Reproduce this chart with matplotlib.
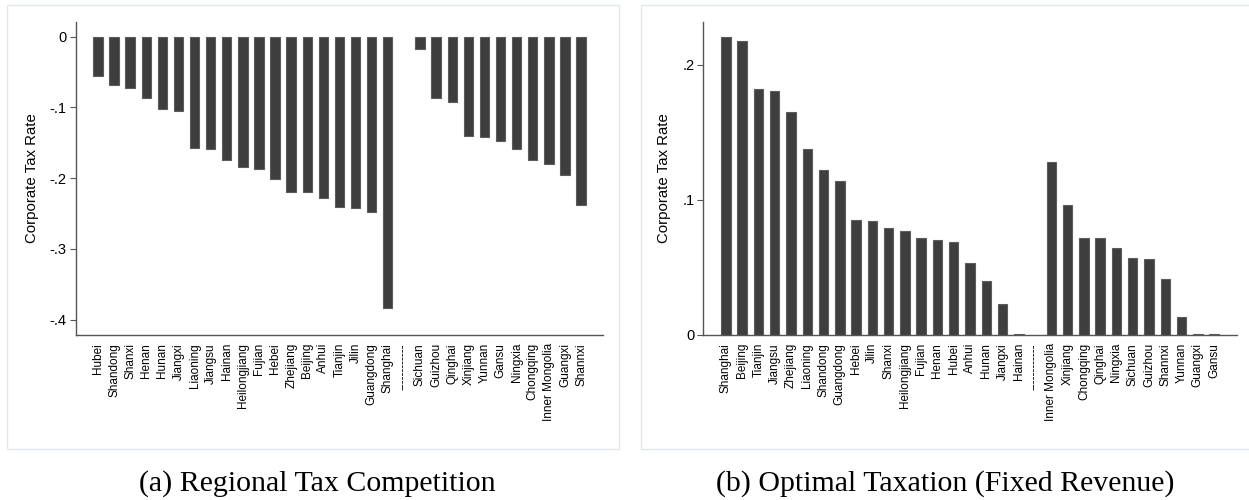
import matplotlib.pyplot as plt
from matplotlib.patches import Rectangle
import numpy as np

plt.rcParams['font.family'] = ['Liberation Sans', 'DejaVu Sans']

# (a) regional tax competition: change in corporate tax rate
comp_first = ['Hubei', 'Shandong', 'Shanxi', 'Henan', 'Hunan', 'Jiangxi',
              'Liaoning', 'Jiangsu', 'Hainan', 'Heilongjiang', 'Fujian',
              'Hebei', 'Zhejiang', 'Beijing', 'Anhui', 'Tianjin', 'Jilin',
              'Guangdong', 'Shanghai']
comp_first_vals = [-0.056, -0.068, -0.073, -0.087, -0.102, -0.105,
                   -0.158, -0.159, -0.174, -0.184, -0.187,
                   -0.201, -0.219, -0.220, -0.228, -0.240, -0.242,
                   -0.248, -0.383]
comp_second = ['Sichuan', 'Guizhou', 'Qinghai', 'Xinjiang', 'Yunnan', 'Gansu',
               'Ningxia', 'Chongqing', 'Inner Mongolia', 'Guangxi', 'Shannxi']
comp_second_vals = [-0.017, -0.087, -0.093, -0.141, -0.142, -0.147,
                    -0.159, -0.174, -0.180, -0.195, -0.238]

# (b) optimal taxation with fixed revenue
opt_first = ['Shanghai', 'Beijing', 'Tianjin', 'Jiangsu', 'Zhejiang',
             'Liaoning', 'Shandong', 'Guangdong', 'Hebei', 'Jilin', 'Shanxi',
             'Heilongjiang', 'Fujian', 'Henan', 'Hubei', 'Anhui', 'Hunan',
             'Jiangxi', 'Hainan']
opt_first_vals = [0.221, 0.218, 0.182, 0.181, 0.165,
                  0.138, 0.122, 0.114, 0.085, 0.084, 0.079,
                  0.077, 0.072, 0.070, 0.069, 0.053, 0.040,
                  0.023, 0.0004]
opt_second = ['Inner Mongolia', 'Xinjiang', 'Chongqing', 'Qinghai', 'Ningxia',
              'Sichuan', 'Guizhou', 'Shannxi', 'Yunnan', 'Guangxi', 'Gansu']
opt_second_vals = [0.128, 0.096, 0.072, 0.072, 0.064,
                   0.057, 0.056, 0.041, 0.013, 0.0004, 0.0004]

separator = '------------'


def draw_panel(ax, first, first_vals, second, second_vals, ylim, yticks, yticklabels):
    labels = first + [separator] + second
    xs = [i for i in range(len(labels)) if i != len(first)]
    ax.bar(xs, first_vals + second_vals, width=0.58, color='#3e3e3e',
           edgecolor='#5c5c5c', linewidth=0.8, zorder=2)
    ax.set_xticks(range(len(labels)))
    ax.set_xticklabels(labels, rotation=90, fontsize=8.5)
    ax.tick_params(axis='x', length=0, pad=6)
    ax.set_xlim(-1.38, len(labels) - 1 + 1.38)
    ax.set_ylim(*ylim)
    ax.set_yticks(yticks)
    ax.set_yticklabels(yticklabels, fontsize=10.5)
    ax.tick_params(axis='y', length=4, width=0.8, color='#555555', pad=2.5)
    ax.set_ylabel('Corporate Tax Rate', fontsize=10.8, labelpad=8)
    for side in ['top', 'right']:
        ax.spines[side].set_visible(False)
    for side in ['left', 'bottom']:
        ax.spines[side].set_color('#555555')
        ax.spines[side].set_linewidth(1.0)


fig = plt.figure(figsize=(12.49, 5.0), dpi=100)

# light frames around each panel
fig.add_artist(Rectangle((7 / 1249, 1 - 449 / 500), 612 / 1249, 444 / 500,
                         transform=fig.transFigure, fill=False,
                         edgecolor='#e2e9ec', linewidth=1.0))
fig.add_artist(Rectangle((641 / 1249, 1 - 449 / 500), 620 / 1249, 444 / 500,
                         transform=fig.transFigure, fill=False,
                         edgecolor='#e2e9ec', linewidth=1.0))

ax1 = fig.add_axes([0.0606, 0.3306, 0.4224, 0.6260])
draw_panel(ax1, comp_first, comp_first_vals, comp_second, comp_second_vals,
           (-0.4212, 0.0212), [0, -0.1, -0.2, -0.3, -0.4],
           ['0', '-.1', '-.2', '-.3', '-.4'])

ax2 = fig.add_axes([0.5632, 0.3306, 0.4268, 0.6260])
draw_panel(ax2, opt_first, opt_first_vals, opt_second, opt_second_vals,
           (0, 0.232), [0, 0.1, 0.2], ['0', '.1', '.2'])

fig.text(317 / 1249, 1 - 484 / 500, '(a) Regional Tax Competition',
         ha='center', va='center', fontsize=21.5, family='Liberation Serif')
fig.text(945 / 1249, 1 - 484 / 500, '(b) Optimal Taxation (Fixed Revenue)',
         ha='center', va='center', fontsize=21.5, family='Liberation Serif')

fig.savefig('out.png', dpi=100)
